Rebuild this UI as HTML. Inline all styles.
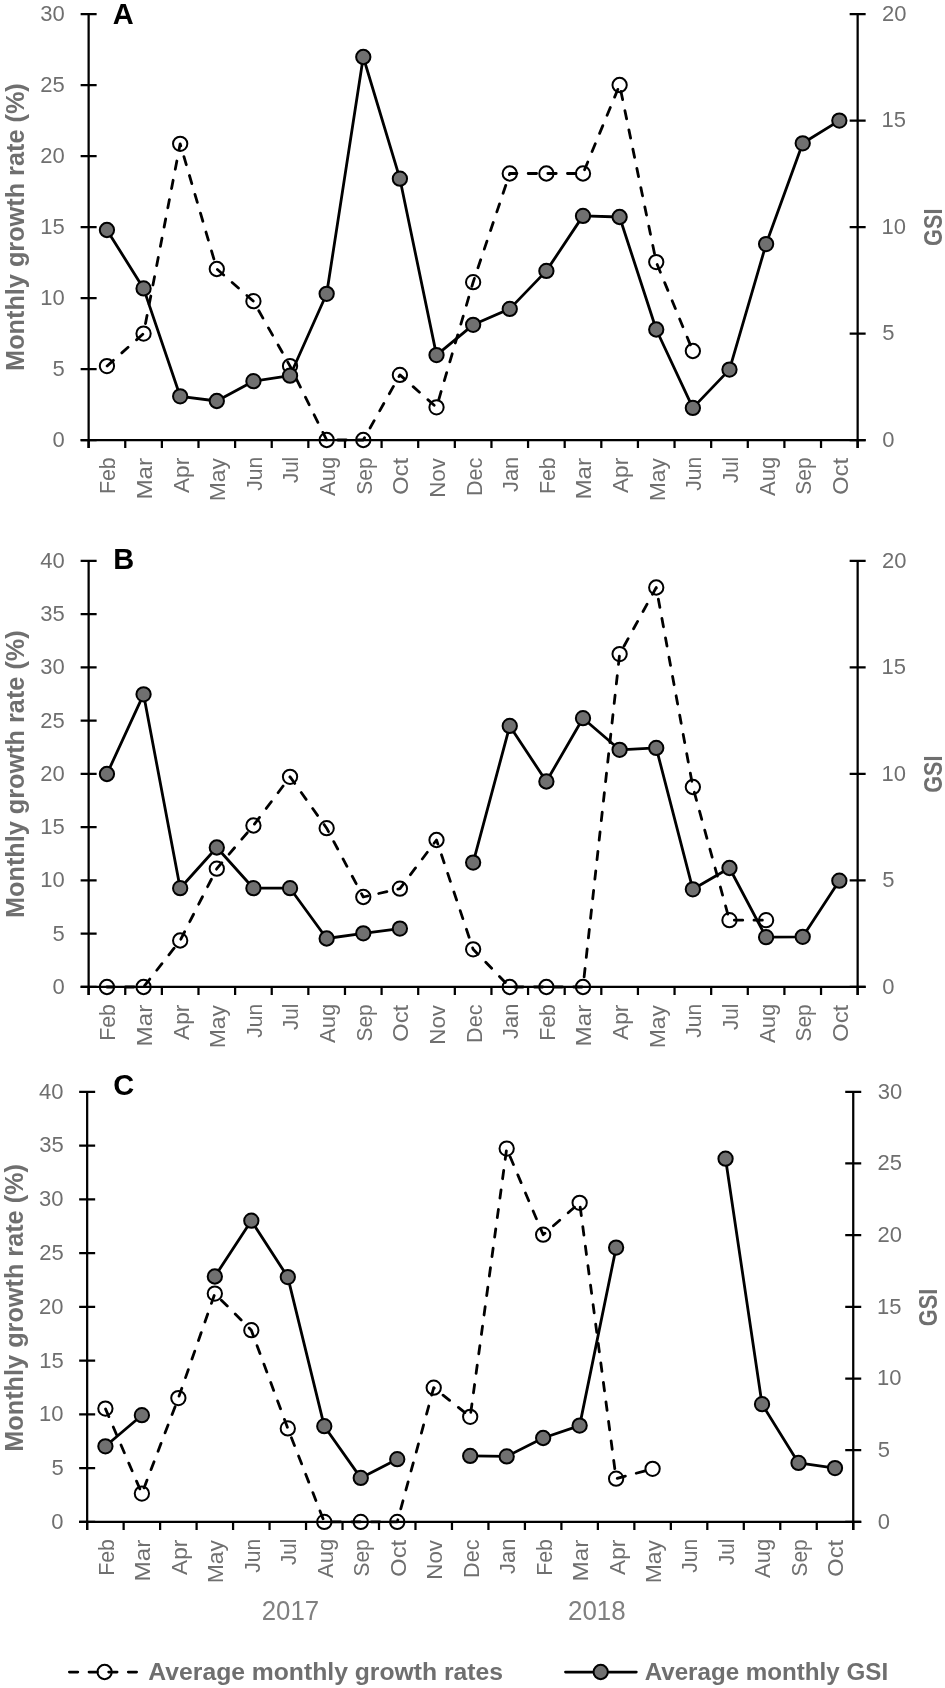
<!DOCTYPE html><html><head><meta charset="utf-8"><style>html,body{margin:0;padding:0;background:#fff;overflow:hidden;}svg{display:block;will-change:transform;}text{font-family:"Liberation Sans",sans-serif;}</style></head><body>
<svg width="945" height="1688" viewBox="0 0 945 1688">
<rect width="945" height="1688" fill="#fff"/>
<g stroke="#000" stroke-width="2.25" fill="none">
<path d="M88.63 14V448M857.65 14V448"/>
<path d="M80.63 440H865.65"/>
<path d="M80.63 440H96.63M80.63 369H96.63M80.63 298H96.63M80.63 227H96.63M80.63 156H96.63M80.63 85H96.63M80.63 14H96.63M849.65 440H865.65M849.65 333.5H865.65M849.65 227H865.65M849.65 120.5H865.65M849.65 14H865.65M88.63 440V448M125.25 440V448M161.87 440V448M198.49 440V448M235.11 440V448M271.73 440V448M308.35 440V448M344.97 440V448M381.59 440V448M418.21 440V448M454.83 440V448M491.45 440V448M528.07 440V448M564.69 440V448M601.31 440V448M637.93 440V448M674.55 440V448M711.17 440V448M747.79 440V448M784.41 440V448M821.03 440V448M857.65 440V448"/>
</g>
<g fill="#6f6f6f" font-size="22">
<text x="52.42" y="446.9">0</text>
<text x="52.49" y="375.9">5</text>
<text x="40.19" y="304.9">10</text>
<text x="40.25" y="233.9">15</text>
<text x="40.19" y="162.9">20</text>
<text x="40.25" y="91.9">25</text>
<text x="40.19" y="20.9">30</text>
<text x="882.24" y="446.9">0</text>
<text x="882.22" y="340.4">5</text>
<text x="881.42" y="233.9">10</text>
<text x="881.42" y="127.4">15</text>
<text x="881.99" y="20.9">20</text>
</g>
<g>
<text transform="translate(115.34 493.94) rotate(-90)" font-size="22" fill="#6f6f6f" textLength="36.64" lengthAdjust="spacingAndGlyphs">Feb</text>
<text transform="translate(151.96 499.59) rotate(-90)" font-size="22" fill="#6f6f6f" textLength="41.79" lengthAdjust="spacingAndGlyphs">Mar</text>
<text transform="translate(188.58 493.04) rotate(-90)" font-size="22" fill="#6f6f6f" textLength="35.22" lengthAdjust="spacingAndGlyphs">Apr</text>
<text transform="translate(225.2 501.27) rotate(-90)" font-size="22" fill="#6f6f6f" textLength="43.12" lengthAdjust="spacingAndGlyphs">May</text>
<text transform="translate(261.82 490.83) rotate(-90)" font-size="22" fill="#6f6f6f" textLength="34" lengthAdjust="spacingAndGlyphs">Jun</text>
<text transform="translate(298.44 483.12) rotate(-90)" font-size="22" fill="#6f6f6f" textLength="26.3" lengthAdjust="spacingAndGlyphs">Jul</text>
<text transform="translate(335.06 496.04) rotate(-90)" font-size="22" fill="#6f6f6f" textLength="39.27" lengthAdjust="spacingAndGlyphs">Aug</text>
<text transform="translate(371.68 494.65) rotate(-90)" font-size="22" fill="#6f6f6f" textLength="37.33" lengthAdjust="spacingAndGlyphs">Sep</text>
<text transform="translate(408.3 494.82) rotate(-90)" font-size="22" fill="#6f6f6f" textLength="36.79" lengthAdjust="spacingAndGlyphs">Oct</text>
<text transform="translate(444.92 497.83) rotate(-90)" font-size="22" fill="#6f6f6f" textLength="39.71" lengthAdjust="spacingAndGlyphs">Nov</text>
<text transform="translate(481.54 496.07) rotate(-90)" font-size="22" fill="#6f6f6f" textLength="38.44" lengthAdjust="spacingAndGlyphs">Dec</text>
<text transform="translate(518.16 492.04) rotate(-90)" font-size="22" fill="#6f6f6f" textLength="35.26" lengthAdjust="spacingAndGlyphs">Jan</text>
<text transform="translate(554.78 493.94) rotate(-90)" font-size="22" fill="#6f6f6f" textLength="36.64" lengthAdjust="spacingAndGlyphs">Feb</text>
<text transform="translate(591.4 499.59) rotate(-90)" font-size="22" fill="#6f6f6f" textLength="41.79" lengthAdjust="spacingAndGlyphs">Mar</text>
<text transform="translate(628.02 493.04) rotate(-90)" font-size="22" fill="#6f6f6f" textLength="35.22" lengthAdjust="spacingAndGlyphs">Apr</text>
<text transform="translate(664.64 501.27) rotate(-90)" font-size="22" fill="#6f6f6f" textLength="43.12" lengthAdjust="spacingAndGlyphs">May</text>
<text transform="translate(701.26 490.83) rotate(-90)" font-size="22" fill="#6f6f6f" textLength="34" lengthAdjust="spacingAndGlyphs">Jun</text>
<text transform="translate(737.88 483.12) rotate(-90)" font-size="22" fill="#6f6f6f" textLength="26.3" lengthAdjust="spacingAndGlyphs">Jul</text>
<text transform="translate(774.5 496.04) rotate(-90)" font-size="22" fill="#6f6f6f" textLength="39.27" lengthAdjust="spacingAndGlyphs">Aug</text>
<text transform="translate(811.12 494.65) rotate(-90)" font-size="22" fill="#6f6f6f" textLength="37.33" lengthAdjust="spacingAndGlyphs">Sep</text>
<text transform="translate(847.74 494.82) rotate(-90)" font-size="22" fill="#6f6f6f" textLength="36.79" lengthAdjust="spacingAndGlyphs">Oct</text>
</g>
<text transform="translate(24.1 370.89) rotate(-90)" font-size="25.2" font-weight="bold" fill="#6f6f6f" textLength="287.65" lengthAdjust="spacingAndGlyphs">Monthly growth rate (%)</text>
<text transform="translate(941.6 245.89) rotate(-90)" font-size="25.2" font-weight="bold" fill="#6f6f6f" textLength="37.34" lengthAdjust="spacingAndGlyphs">GSI</text>
<text x="112.78" y="23.6" font-weight="bold" font-size="29" fill="#000">A</text>
<path d="M106.94 366.1L143.56 333.6L180.18 143.8L216.8 269L253.42 301.2L290.04 366.1L326.66 440L363.28 440L399.9 374.9L436.52 407.3L473.14 282.2L509.76 173.5L546.38 173.5L583 173.5L619.62 85L656.24 262.1L692.86 351" fill="none" stroke="#000" stroke-width="2.8" stroke-dasharray="8.4 11.245" stroke-dashoffset="19.395" stroke-linecap="round" stroke-linejoin="round"/>
<g fill="none" stroke="#000" stroke-width="2.0">
<circle cx="106.94" cy="366.1" r="7.15"/>
<circle cx="143.56" cy="333.6" r="7.15"/>
<circle cx="180.18" cy="143.8" r="7.15"/>
<circle cx="216.8" cy="269" r="7.15"/>
<circle cx="253.42" cy="301.2" r="7.15"/>
<circle cx="290.04" cy="366.1" r="7.15"/>
<circle cx="326.66" cy="440" r="7.15"/>
<circle cx="363.28" cy="440" r="7.15"/>
<circle cx="399.9" cy="374.9" r="7.15"/>
<circle cx="436.52" cy="407.3" r="7.15"/>
<circle cx="473.14" cy="282.2" r="7.15"/>
<circle cx="509.76" cy="173.5" r="7.15"/>
<circle cx="546.38" cy="173.5" r="7.15"/>
<circle cx="583" cy="173.5" r="7.15"/>
<circle cx="619.62" cy="85" r="7.15"/>
<circle cx="656.24" cy="262.1" r="7.15"/>
<circle cx="692.86" cy="351" r="7.15"/>
</g>
<path d="M106.94 230L143.56 288.4L180.18 396.3L216.8 401L253.42 381.2L290.04 375.7L326.66 293.8L363.28 57L399.9 178.7L436.52 355.1L473.14 324.8L509.76 308.9L546.38 270.9L583 215.9L619.62 217L656.24 329.5L692.86 407.9L729.48 369.6L766.1 244.1L802.72 143.3L839.34 120.6" fill="none" stroke="#000" stroke-width="2.8" stroke-linejoin="round"/>
<g fill="#707070" stroke="#000" stroke-width="2.0">
<circle cx="106.94" cy="230" r="7.15"/>
<circle cx="143.56" cy="288.4" r="7.15"/>
<circle cx="180.18" cy="396.3" r="7.15"/>
<circle cx="216.8" cy="401" r="7.15"/>
<circle cx="253.42" cy="381.2" r="7.15"/>
<circle cx="290.04" cy="375.7" r="7.15"/>
<circle cx="326.66" cy="293.8" r="7.15"/>
<circle cx="363.28" cy="57" r="7.15"/>
<circle cx="399.9" cy="178.7" r="7.15"/>
<circle cx="436.52" cy="355.1" r="7.15"/>
<circle cx="473.14" cy="324.8" r="7.15"/>
<circle cx="509.76" cy="308.9" r="7.15"/>
<circle cx="546.38" cy="270.9" r="7.15"/>
<circle cx="583" cy="215.9" r="7.15"/>
<circle cx="619.62" cy="217" r="7.15"/>
<circle cx="656.24" cy="329.5" r="7.15"/>
<circle cx="692.86" cy="407.9" r="7.15"/>
<circle cx="729.48" cy="369.6" r="7.15"/>
<circle cx="766.1" cy="244.1" r="7.15"/>
<circle cx="802.72" cy="143.3" r="7.15"/>
<circle cx="839.34" cy="120.6" r="7.15"/>
</g>
<g stroke="#000" stroke-width="2.25" fill="none">
<path d="M88.63 560.9V994.9M857.65 560.9V994.9"/>
<path d="M80.63 986.9H865.65"/>
<path d="M80.63 986.9H96.63M80.63 933.65H96.63M80.63 880.4H96.63M80.63 827.15H96.63M80.63 773.9H96.63M80.63 720.65H96.63M80.63 667.4H96.63M80.63 614.15H96.63M80.63 560.9H96.63M849.65 986.9H865.65M849.65 880.4H865.65M849.65 773.9H865.65M849.65 667.4H865.65M849.65 560.9H865.65M88.63 986.9V994.9M125.25 986.9V994.9M161.87 986.9V994.9M198.49 986.9V994.9M235.11 986.9V994.9M271.73 986.9V994.9M308.35 986.9V994.9M344.97 986.9V994.9M381.59 986.9V994.9M418.21 986.9V994.9M454.83 986.9V994.9M491.45 986.9V994.9M528.07 986.9V994.9M564.69 986.9V994.9M601.31 986.9V994.9M637.93 986.9V994.9M674.55 986.9V994.9M711.17 986.9V994.9M747.79 986.9V994.9M784.41 986.9V994.9M821.03 986.9V994.9M857.65 986.9V994.9"/>
</g>
<g fill="#6f6f6f" font-size="22">
<text x="52.52" y="993.8">0</text>
<text x="52.59" y="940.55">5</text>
<text x="40.29" y="887.3">10</text>
<text x="40.35" y="834.05">15</text>
<text x="40.29" y="780.8">20</text>
<text x="40.35" y="727.55">25</text>
<text x="40.29" y="674.3">30</text>
<text x="40.35" y="621.05">35</text>
<text x="40.29" y="567.8">40</text>
<text x="882.24" y="993.8">0</text>
<text x="882.22" y="887.3">5</text>
<text x="881.42" y="780.8">10</text>
<text x="881.42" y="674.3">15</text>
<text x="881.99" y="567.8">20</text>
</g>
<g>
<text transform="translate(115.34 1040.84) rotate(-90)" font-size="22" fill="#6f6f6f" textLength="36.64" lengthAdjust="spacingAndGlyphs">Feb</text>
<text transform="translate(151.96 1046.49) rotate(-90)" font-size="22" fill="#6f6f6f" textLength="41.79" lengthAdjust="spacingAndGlyphs">Mar</text>
<text transform="translate(188.58 1039.94) rotate(-90)" font-size="22" fill="#6f6f6f" textLength="35.22" lengthAdjust="spacingAndGlyphs">Apr</text>
<text transform="translate(225.2 1048.17) rotate(-90)" font-size="22" fill="#6f6f6f" textLength="43.12" lengthAdjust="spacingAndGlyphs">May</text>
<text transform="translate(261.82 1037.73) rotate(-90)" font-size="22" fill="#6f6f6f" textLength="34" lengthAdjust="spacingAndGlyphs">Jun</text>
<text transform="translate(298.44 1030.02) rotate(-90)" font-size="22" fill="#6f6f6f" textLength="26.3" lengthAdjust="spacingAndGlyphs">Jul</text>
<text transform="translate(335.06 1042.94) rotate(-90)" font-size="22" fill="#6f6f6f" textLength="39.27" lengthAdjust="spacingAndGlyphs">Aug</text>
<text transform="translate(371.68 1041.55) rotate(-90)" font-size="22" fill="#6f6f6f" textLength="37.33" lengthAdjust="spacingAndGlyphs">Sep</text>
<text transform="translate(408.3 1041.72) rotate(-90)" font-size="22" fill="#6f6f6f" textLength="36.79" lengthAdjust="spacingAndGlyphs">Oct</text>
<text transform="translate(444.92 1044.73) rotate(-90)" font-size="22" fill="#6f6f6f" textLength="39.71" lengthAdjust="spacingAndGlyphs">Nov</text>
<text transform="translate(481.54 1042.97) rotate(-90)" font-size="22" fill="#6f6f6f" textLength="38.44" lengthAdjust="spacingAndGlyphs">Dec</text>
<text transform="translate(518.16 1038.94) rotate(-90)" font-size="22" fill="#6f6f6f" textLength="35.26" lengthAdjust="spacingAndGlyphs">Jan</text>
<text transform="translate(554.78 1040.84) rotate(-90)" font-size="22" fill="#6f6f6f" textLength="36.64" lengthAdjust="spacingAndGlyphs">Feb</text>
<text transform="translate(591.4 1046.49) rotate(-90)" font-size="22" fill="#6f6f6f" textLength="41.79" lengthAdjust="spacingAndGlyphs">Mar</text>
<text transform="translate(628.02 1039.94) rotate(-90)" font-size="22" fill="#6f6f6f" textLength="35.22" lengthAdjust="spacingAndGlyphs">Apr</text>
<text transform="translate(664.64 1048.17) rotate(-90)" font-size="22" fill="#6f6f6f" textLength="43.12" lengthAdjust="spacingAndGlyphs">May</text>
<text transform="translate(701.26 1037.73) rotate(-90)" font-size="22" fill="#6f6f6f" textLength="34" lengthAdjust="spacingAndGlyphs">Jun</text>
<text transform="translate(737.88 1030.02) rotate(-90)" font-size="22" fill="#6f6f6f" textLength="26.3" lengthAdjust="spacingAndGlyphs">Jul</text>
<text transform="translate(774.5 1042.94) rotate(-90)" font-size="22" fill="#6f6f6f" textLength="39.27" lengthAdjust="spacingAndGlyphs">Aug</text>
<text transform="translate(811.12 1041.55) rotate(-90)" font-size="22" fill="#6f6f6f" textLength="37.33" lengthAdjust="spacingAndGlyphs">Sep</text>
<text transform="translate(847.74 1041.72) rotate(-90)" font-size="22" fill="#6f6f6f" textLength="36.79" lengthAdjust="spacingAndGlyphs">Oct</text>
</g>
<text transform="translate(24.1 917.99) rotate(-90)" font-size="25.2" font-weight="bold" fill="#6f6f6f" textLength="287.65" lengthAdjust="spacingAndGlyphs">Monthly growth rate (%)</text>
<text transform="translate(941.6 792.69) rotate(-90)" font-size="25.2" font-weight="bold" fill="#6f6f6f" textLength="37.23" lengthAdjust="spacingAndGlyphs">GSI</text>
<text x="113.36" y="569.2" font-weight="bold" font-size="29" fill="#000">B</text>
<path d="M106.94 987L143.56 987L180.18 940.5L216.8 868.7L253.42 825.5L290.04 776.8L326.66 828.2L363.28 897L399.9 888.7L436.52 840L473.14 949.3L509.76 987L546.38 987L583 987L619.62 654.1L656.24 587.5L692.86 787L729.48 920.2L766.1 920.2" fill="none" stroke="#000" stroke-width="2.8" stroke-dasharray="8.4 11.245" stroke-dashoffset="1.0" stroke-linecap="round" stroke-linejoin="round"/>
<g fill="none" stroke="#000" stroke-width="2.0">
<circle cx="106.94" cy="987" r="7.15"/>
<circle cx="143.56" cy="987" r="7.15"/>
<circle cx="180.18" cy="940.5" r="7.15"/>
<circle cx="216.8" cy="868.7" r="7.15"/>
<circle cx="253.42" cy="825.5" r="7.15"/>
<circle cx="290.04" cy="776.8" r="7.15"/>
<circle cx="326.66" cy="828.2" r="7.15"/>
<circle cx="363.28" cy="897" r="7.15"/>
<circle cx="399.9" cy="888.7" r="7.15"/>
<circle cx="436.52" cy="840" r="7.15"/>
<circle cx="473.14" cy="949.3" r="7.15"/>
<circle cx="509.76" cy="987" r="7.15"/>
<circle cx="546.38" cy="987" r="7.15"/>
<circle cx="583" cy="987" r="7.15"/>
<circle cx="619.62" cy="654.1" r="7.15"/>
<circle cx="656.24" cy="587.5" r="7.15"/>
<circle cx="692.86" cy="787" r="7.15"/>
<circle cx="729.48" cy="920.2" r="7.15"/>
<circle cx="766.1" cy="920.2" r="7.15"/>
</g>
<path d="M106.94 774L143.56 694.3L180.18 888.2L216.8 847.5L253.42 888.2L290.04 888.2L326.66 938.5L363.28 933.3L399.9 928.6M473.14 862.6L509.76 725.9L546.38 781.5L583 718.2L619.62 749.8L656.24 747.9L692.86 889.3L729.48 868L766.1 937.2L802.72 936.8L839.34 880.7" fill="none" stroke="#000" stroke-width="2.8" stroke-linejoin="round"/>
<g fill="#707070" stroke="#000" stroke-width="2.0">
<circle cx="106.94" cy="774" r="7.15"/>
<circle cx="143.56" cy="694.3" r="7.15"/>
<circle cx="180.18" cy="888.2" r="7.15"/>
<circle cx="216.8" cy="847.5" r="7.15"/>
<circle cx="253.42" cy="888.2" r="7.15"/>
<circle cx="290.04" cy="888.2" r="7.15"/>
<circle cx="326.66" cy="938.5" r="7.15"/>
<circle cx="363.28" cy="933.3" r="7.15"/>
<circle cx="399.9" cy="928.6" r="7.15"/>
<circle cx="473.14" cy="862.6" r="7.15"/>
<circle cx="509.76" cy="725.9" r="7.15"/>
<circle cx="546.38" cy="781.5" r="7.15"/>
<circle cx="583" cy="718.2" r="7.15"/>
<circle cx="619.62" cy="749.8" r="7.15"/>
<circle cx="656.24" cy="747.9" r="7.15"/>
<circle cx="692.86" cy="889.3" r="7.15"/>
<circle cx="729.48" cy="868" r="7.15"/>
<circle cx="766.1" cy="937.2" r="7.15"/>
<circle cx="802.72" cy="936.8" r="7.15"/>
<circle cx="839.34" cy="880.7" r="7.15"/>
</g>
<g stroke="#000" stroke-width="2.25" fill="none">
<path d="M87.16 1091.8V1529.9M853.24 1091.8V1529.9"/>
<path d="M79.16 1521.9H861.24"/>
<path d="M79.16 1521.9H95.16M79.16 1468.14H95.16M79.16 1414.38H95.16M79.16 1360.61H95.16M79.16 1306.85H95.16M79.16 1253.09H95.16M79.16 1199.33H95.16M79.16 1145.56H95.16M79.16 1091.8H95.16M845.24 1521.9H861.24M845.24 1450.22H861.24M845.24 1378.53H861.24M845.24 1306.85H861.24M845.24 1235.17H861.24M845.24 1163.48H861.24M845.24 1091.8H861.24M87.16 1521.9V1529.9M123.64 1521.9V1529.9M160.12 1521.9V1529.9M196.6 1521.9V1529.9M233.08 1521.9V1529.9M269.56 1521.9V1529.9M306.04 1521.9V1529.9M342.52 1521.9V1529.9M379 1521.9V1529.9M415.48 1521.9V1529.9M451.96 1521.9V1529.9M488.44 1521.9V1529.9M524.92 1521.9V1529.9M561.4 1521.9V1529.9M597.88 1521.9V1529.9M634.36 1521.9V1529.9M670.84 1521.9V1529.9M707.32 1521.9V1529.9M743.8 1521.9V1529.9M780.28 1521.9V1529.9M816.76 1521.9V1529.9M853.24 1521.9V1529.9"/>
</g>
<g fill="#6f6f6f" font-size="22">
<text x="51.32" y="1528.8">0</text>
<text x="51.39" y="1475.04">5</text>
<text x="39.09" y="1421.28">10</text>
<text x="39.15" y="1367.51">15</text>
<text x="39.09" y="1313.75">20</text>
<text x="39.15" y="1259.99">25</text>
<text x="39.09" y="1206.23">30</text>
<text x="39.15" y="1152.46">35</text>
<text x="39.09" y="1098.7">40</text>
<text x="877.84" y="1528.8">0</text>
<text x="877.82" y="1457.12">5</text>
<text x="877.02" y="1385.43">10</text>
<text x="877.02" y="1313.75">15</text>
<text x="877.59" y="1242.07">20</text>
<text x="877.59" y="1170.38">25</text>
<text x="877.86" y="1098.7">30</text>
</g>
<g>
<text transform="translate(113.8 1575.84) rotate(-90)" font-size="22" fill="#6f6f6f" textLength="36.64" lengthAdjust="spacingAndGlyphs">Feb</text>
<text transform="translate(150.28 1581.49) rotate(-90)" font-size="22" fill="#6f6f6f" textLength="41.79" lengthAdjust="spacingAndGlyphs">Mar</text>
<text transform="translate(186.76 1574.94) rotate(-90)" font-size="22" fill="#6f6f6f" textLength="35.22" lengthAdjust="spacingAndGlyphs">Apr</text>
<text transform="translate(223.24 1583.17) rotate(-90)" font-size="22" fill="#6f6f6f" textLength="43.12" lengthAdjust="spacingAndGlyphs">May</text>
<text transform="translate(259.72 1572.73) rotate(-90)" font-size="22" fill="#6f6f6f" textLength="34" lengthAdjust="spacingAndGlyphs">Jun</text>
<text transform="translate(296.2 1565.02) rotate(-90)" font-size="22" fill="#6f6f6f" textLength="26.3" lengthAdjust="spacingAndGlyphs">Jul</text>
<text transform="translate(332.68 1577.94) rotate(-90)" font-size="22" fill="#6f6f6f" textLength="39.27" lengthAdjust="spacingAndGlyphs">Aug</text>
<text transform="translate(369.16 1576.55) rotate(-90)" font-size="22" fill="#6f6f6f" textLength="37.33" lengthAdjust="spacingAndGlyphs">Sep</text>
<text transform="translate(405.64 1576.72) rotate(-90)" font-size="22" fill="#6f6f6f" textLength="36.79" lengthAdjust="spacingAndGlyphs">Oct</text>
<text transform="translate(442.12 1579.73) rotate(-90)" font-size="22" fill="#6f6f6f" textLength="39.71" lengthAdjust="spacingAndGlyphs">Nov</text>
<text transform="translate(478.6 1577.97) rotate(-90)" font-size="22" fill="#6f6f6f" textLength="38.44" lengthAdjust="spacingAndGlyphs">Dec</text>
<text transform="translate(515.08 1573.94) rotate(-90)" font-size="22" fill="#6f6f6f" textLength="35.26" lengthAdjust="spacingAndGlyphs">Jan</text>
<text transform="translate(551.56 1575.84) rotate(-90)" font-size="22" fill="#6f6f6f" textLength="36.64" lengthAdjust="spacingAndGlyphs">Feb</text>
<text transform="translate(588.04 1581.49) rotate(-90)" font-size="22" fill="#6f6f6f" textLength="41.79" lengthAdjust="spacingAndGlyphs">Mar</text>
<text transform="translate(624.52 1574.94) rotate(-90)" font-size="22" fill="#6f6f6f" textLength="35.22" lengthAdjust="spacingAndGlyphs">Apr</text>
<text transform="translate(661 1583.17) rotate(-90)" font-size="22" fill="#6f6f6f" textLength="43.12" lengthAdjust="spacingAndGlyphs">May</text>
<text transform="translate(697.48 1572.73) rotate(-90)" font-size="22" fill="#6f6f6f" textLength="34" lengthAdjust="spacingAndGlyphs">Jun</text>
<text transform="translate(733.96 1565.02) rotate(-90)" font-size="22" fill="#6f6f6f" textLength="26.3" lengthAdjust="spacingAndGlyphs">Jul</text>
<text transform="translate(770.44 1577.94) rotate(-90)" font-size="22" fill="#6f6f6f" textLength="39.27" lengthAdjust="spacingAndGlyphs">Aug</text>
<text transform="translate(806.92 1576.55) rotate(-90)" font-size="22" fill="#6f6f6f" textLength="37.33" lengthAdjust="spacingAndGlyphs">Sep</text>
<text transform="translate(843.4 1576.72) rotate(-90)" font-size="22" fill="#6f6f6f" textLength="36.79" lengthAdjust="spacingAndGlyphs">Oct</text>
</g>
<text transform="translate(23.1 1451.69) rotate(-90)" font-size="25.2" font-weight="bold" fill="#6f6f6f" textLength="287.65" lengthAdjust="spacingAndGlyphs">Monthly growth rate (%)</text>
<text transform="translate(937.4 1326.19) rotate(-90)" font-size="25.2" font-weight="bold" fill="#6f6f6f" textLength="37.45" lengthAdjust="spacingAndGlyphs">GSI</text>
<text x="113.21" y="1095.2" font-weight="bold" font-size="29" fill="#000">C</text>
<path d="M105.4 1408.6L141.88 1493.6L178.36 1398.1L214.84 1293.6L251.32 1330.2L287.8 1428.4L324.28 1521.9L360.76 1521.9L397.24 1521.9L433.72 1387.7L470.2 1416.8L506.68 1148.6L543.16 1234.7L579.64 1202.8L616.12 1478.7L652.6 1468.8" fill="none" stroke="#000" stroke-width="2.8" stroke-dasharray="8.4 11.245" stroke-dashoffset="19.295" stroke-linecap="round" stroke-linejoin="round"/>
<g fill="none" stroke="#000" stroke-width="2.0">
<circle cx="105.4" cy="1408.6" r="7.15"/>
<circle cx="141.88" cy="1493.6" r="7.15"/>
<circle cx="178.36" cy="1398.1" r="7.15"/>
<circle cx="214.84" cy="1293.6" r="7.15"/>
<circle cx="251.32" cy="1330.2" r="7.15"/>
<circle cx="287.8" cy="1428.4" r="7.15"/>
<circle cx="324.28" cy="1521.9" r="7.15"/>
<circle cx="360.76" cy="1521.9" r="7.15"/>
<circle cx="397.24" cy="1521.9" r="7.15"/>
<circle cx="433.72" cy="1387.7" r="7.15"/>
<circle cx="470.2" cy="1416.8" r="7.15"/>
<circle cx="506.68" cy="1148.6" r="7.15"/>
<circle cx="543.16" cy="1234.7" r="7.15"/>
<circle cx="579.64" cy="1202.8" r="7.15"/>
<circle cx="616.12" cy="1478.7" r="7.15"/>
<circle cx="652.6" cy="1468.8" r="7.15"/>
</g>
<path d="M105.4 1446.3L141.88 1415.2M214.84 1276.5L251.32 1220.7L287.8 1277.1L324.28 1426.2L360.76 1477.9L397.24 1459.2M470.2 1455.9L506.68 1456.4L543.16 1438L579.64 1425.6L616.12 1247.6M725.56 1158.7L762.04 1404.2L798.52 1462.9L835 1468.1" fill="none" stroke="#000" stroke-width="2.8" stroke-linejoin="round"/>
<g fill="#707070" stroke="#000" stroke-width="2.0">
<circle cx="105.4" cy="1446.3" r="7.15"/>
<circle cx="141.88" cy="1415.2" r="7.15"/>
<circle cx="214.84" cy="1276.5" r="7.15"/>
<circle cx="251.32" cy="1220.7" r="7.15"/>
<circle cx="287.8" cy="1277.1" r="7.15"/>
<circle cx="324.28" cy="1426.2" r="7.15"/>
<circle cx="360.76" cy="1477.9" r="7.15"/>
<circle cx="397.24" cy="1459.2" r="7.15"/>
<circle cx="470.2" cy="1455.9" r="7.15"/>
<circle cx="506.68" cy="1456.4" r="7.15"/>
<circle cx="543.16" cy="1438" r="7.15"/>
<circle cx="579.64" cy="1425.6" r="7.15"/>
<circle cx="616.12" cy="1247.6" r="7.15"/>
<circle cx="725.56" cy="1158.7" r="7.15"/>
<circle cx="762.04" cy="1404.2" r="7.15"/>
<circle cx="798.52" cy="1462.9" r="7.15"/>
<circle cx="835" cy="1468.1" r="7.15"/>
</g>
<text x="261.7" y="1619.7" font-size="27" fill="#808080" textLength="57.4" lengthAdjust="spacingAndGlyphs">2017</text>
<text x="567.99" y="1619.7" font-size="27" fill="#808080" textLength="57.73" lengthAdjust="spacingAndGlyphs">2018</text>
<path d="M69.4 1672.1H136.6" stroke="#000" stroke-width="2.8" stroke-dasharray="8.4 11.245" stroke-linecap="round"/>
<circle cx="104.6" cy="1672" r="7.15" fill="none" stroke="#000" stroke-width="2.0"/>
<text x="148.39" y="1679.7" font-size="24.6" font-weight="bold" fill="#6f6f6f" textLength="354.62" lengthAdjust="spacingAndGlyphs">Average monthly growth rates</text>
<path d="M565.5 1672.1H636.3" stroke="#000" stroke-width="2.8" stroke-linecap="round"/>
<circle cx="600.7" cy="1672" r="7.15" fill="#707070" stroke="#000" stroke-width="2.0"/>
<text x="644.7" y="1679.7" font-size="24.6" font-weight="bold" fill="#6f6f6f" textLength="243.41" lengthAdjust="spacingAndGlyphs">Average monthly GSI</text>
</svg></body></html>
